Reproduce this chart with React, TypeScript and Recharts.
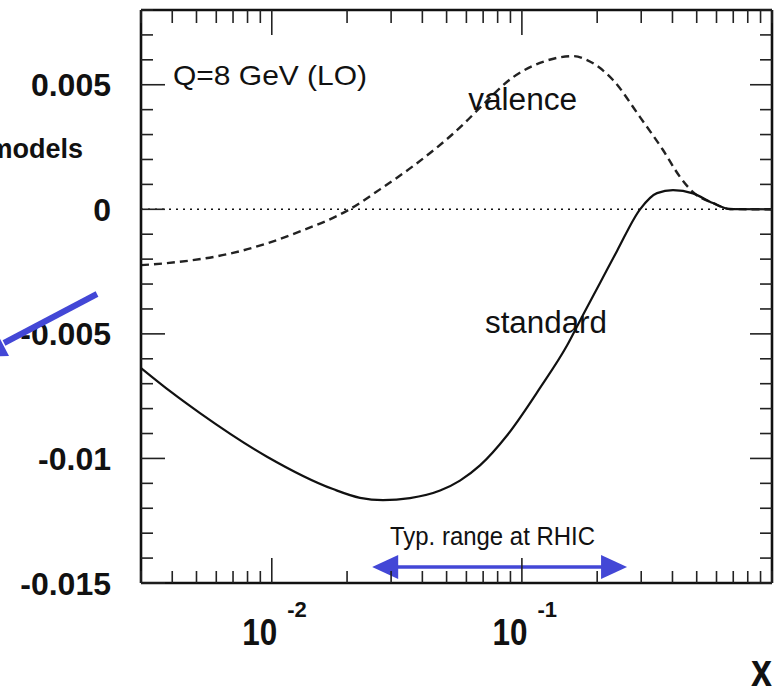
import React from 'react';
import { LineChart, Line, XAxis, YAxis, ReferenceLine, ReferenceDot, Label } from 'recharts';

// ---- data ----
const standardX = [0.003, 0.003955, 0.005164, 0.00957, 0.01757, 0.02253, 0.02784, 0.0357, 0.0471, 0.05655, 0.068, 0.0872, 0.1182, 0.1515, 0.1755, 0.2053, 0.2401, 0.2967, 0.347, 0.402, 0.4832, 0.5809, 0.6796, 1];
const standardY = [-0.00637, -0.00733, -0.00818, -0.00993, -0.01123, -0.01158, -0.01167, -0.01159, -0.01129, -0.01089, -0.01028, -0.00908, -0.00717, -0.00547, -0.00424, -0.00296, -0.00167, 0, 0.00065, 0.00077, 0.00064, 0.00025, 0.00001, 0];

const valenceX = [0.003, 0.003812, 0.007, 0.01297, 0.02055, 0.02708, 0.0368, 0.0456, 0.0583, 0.068, 0.0924, 0.1257, 0.1606, 0.1822, 0.2314, 0.2967, 0.3666, 0.4287, 0.4832, 0.5809, 0.6796, 1];
const valenceY = [-0.00224, -0.00216, -0.00175, -0.00089, 0.00001, 0.0008, 0.00174, 0.00247, 0.00341, 0.00408, 0.00531, 0.00597, 0.00615, 0.00599, 0.00519, 0.0037, 0.00238, 0.0013, 0.00069, 0.00025, 0.00001, 0];

const xTicks = [0.003, 0.004, 0.005, 0.006, 0.007, 0.008, 0.009, 0.01, 0.02, 0.03, 0.04, 0.05, 0.06, 0.07, 0.08, 0.09, 0.1, 0.2, 0.3, 0.4, 0.5, 0.6, 0.7, 0.8, 0.9, 1];
const xMajorTicks = [0.01, 0.1];
const xMajorExponents = ['-2', '-1'];

const yTicks = [-0.015, -0.014, -0.013, -0.012, -0.011, -0.01, -0.009, -0.008, -0.007, -0.006, -0.005, -0.004, -0.003, -0.002, -0.001, 0, 0.001, 0.002, 0.003, 0.004, 0.005, 0.006, 0.007, 0.008];
const yMajorTicks = [-0.015, -0.01, -0.005, 0, 0.005];
const yMajorLabels = ['-0.015', '-0.01', '-0.005', '0', '0.005'];

const xDomain = [0.003, 1];
const yDomain = [-0.015, 0.008];

const rhicRange = [0.0252, 0.2633];
const rhicLevel = -0.01436;

const standardData = standardX.map((x, i) => ({ x, y: standardY[i] }));
const valenceData = valenceX.map((x, i) => ({ x, y: valenceY[i] }));

const FONT = "'Liberation Sans', Arial, Helvetica, sans-serif";
const BLUE = '#4347D6';
const TICK = '#222';

const BottomTick = (props: any) => {
  const { x, y, payload } = props;
  const mi = xMajorTicks.indexOf(payload.value);
  const major = mi >= 0;
  return (
    <g>
      <line x1={x} y1={y} x2={x} y2={y - (major ? 25 : 12)} stroke={TICK} strokeWidth={1.6} />
      {major && (
        <g fontFamily={FONT} fontWeight="bold" fill="#111">
          <text x={x - 29.5} y={y + 62} fontSize={36} textLength={35} lengthAdjust="spacingAndGlyphs">10</text>
          <text x={x + 15.5} y={y + 34} fontSize={22}>{xMajorExponents[mi]}</text>
        </g>
      )}
    </g>
  );
};

const TopTick = (props: any) => {
  const { x, y, payload } = props;
  const major = xMajorTicks.indexOf(payload.value) >= 0;
  return <line x1={x} y1={y} x2={x} y2={y + (major ? 25 : 13)} stroke={TICK} strokeWidth={1.6} />;
};

const LeftTick = (props: any) => {
  const { x, y, payload } = props;
  const mi = yMajorTicks.indexOf(payload.value);
  const major = mi >= 0;
  return (
    <g>
      <line x1={x} y1={y} x2={x + (major ? 24 : 12)} y2={y} stroke={TICK} strokeWidth={1.6} />
      {major && (
        <text x={x - 30} y={y + 11.5} textAnchor="end" fontFamily={FONT} fontWeight="bold" fontSize={32} fill="#111">
          {yMajorLabels[mi]}
        </text>
      )}
    </g>
  );
};

const RightTick = (props: any) => {
  const { x, y, payload } = props;
  const major = yMajorTicks.indexOf(payload.value) >= 0;
  return <line x1={x} y1={y} x2={x - (major ? 22 : 12)} y2={y} stroke={TICK} strokeWidth={1.6} />;
};

const textShape = (text: string, size: number, length: number) => (p: any) => (
  <text x={p.cx} y={p.cy} fontFamily={FONT} fontSize={size} fill="#111" textLength={length} lengthAdjust="spacingAndGlyphs">
    {text}
  </text>
);

const ArrowShape = (p: any) => {
  const { x1, y1, x2, y2 } = p;
  const head = 26;
  const half = 12;
  return (
    <g>
      <line x1={x1 + head - 2} y1={y1} x2={x2 - head + 2} y2={y2} stroke={BLUE} strokeWidth={3.5} />
      <polygon points={`${x1},${y1} ${x1 + head},${y1 - half} ${x1 + head},${y1 + half}`} fill={BLUE} />
      <polygon points={`${x2},${y2} ${x2 - head},${y2 - half} ${x2 - head},${y2 + half}`} fill={BLUE} />
    </g>
  );
};

const XTitle = (p: any) => {
  const vb = p.viewBox || { x: 141, y: 583, width: 631, height: 108 };
  return (
    <text x={vb.x + vb.width} y={vb.y + 103} textAnchor="end" fontFamily={FONT} fontWeight="bold" fontSize={46} fill="#111" textLength={21} lengthAdjust="spacingAndGlyphs">
      x
    </text>
  );
};

export default function App() {
  return (
    <div style={{ position: 'absolute', left: 0, top: 0, width: 776, height: 691, background: '#fff' }}>
      <LineChart width={776} height={691} margin={{ top: 0, right: 0, bottom: 0, left: 0 }}>
        <XAxis
          xAxisId="b"
          dataKey="x"
          type="number"
          scale="log"
          domain={xDomain}
          allowDataOverflow
          ticks={xTicks}
          interval={0}
          height={108}
          tickSize={0}
          tickMargin={0}
          tickLine={false}
          tick={BottomTick}
          axisLine={{ stroke: '#111', strokeWidth: 2.6 }}
          label={<Label content={XTitle} />}
        />
        <XAxis
          xAxisId="t"
          orientation="top"
          dataKey="x"
          type="number"
          scale="log"
          domain={xDomain}
          allowDataOverflow
          ticks={xTicks}
          interval={0}
          height={10}
          tickSize={0}
          tickMargin={0}
          tickLine={false}
          tick={TopTick}
          axisLine={{ stroke: '#111', strokeWidth: 2.6 }}
        />
        <YAxis
          yAxisId="l"
          type="number"
          domain={yDomain}
          allowDataOverflow
          ticks={yTicks}
          interval={0}
          width={141}
          tickSize={0}
          tickMargin={0}
          tickLine={false}
          tick={LeftTick}
          axisLine={{ stroke: '#111', strokeWidth: 2.6 }}
        />
        <YAxis
          yAxisId="r"
          orientation="right"
          type="number"
          domain={yDomain}
          allowDataOverflow
          ticks={yTicks}
          interval={0}
          width={4}
          tickSize={0}
          tickMargin={0}
          tickLine={false}
          tick={RightTick}
          axisLine={{ stroke: '#111', strokeWidth: 2.6 }}
        />
        <ReferenceLine xAxisId="b" yAxisId="l" y={0} stroke="#111" strokeWidth={1.5} strokeDasharray="2 5" />
        <Line
          xAxisId="b"
          yAxisId="l"
          data={valenceData}
          dataKey="y"
          type="monotone"
          stroke="#222"
          strokeWidth={2.4}
          strokeDasharray="8 5"
          dot={false}
          isAnimationActive={false}
        />
        <Line
          xAxisId="b"
          yAxisId="l"
          data={standardData}
          dataKey="y"
          type="monotone"
          stroke="#111"
          strokeWidth={2.2}
          dot={false}
          isAnimationActive={false}
        />
        <ReferenceDot xAxisId="b" yAxisId="l" x={0.00403} y={0.005} r={0} ifOverflow="visible" shape={textShape('Q=8 GeV (LO)', 28, 194)} />
        <ReferenceDot xAxisId="b" yAxisId="l" x={0.061} y={0.004} r={0} ifOverflow="visible" shape={textShape('valence', 31, 109)} />
        <ReferenceDot xAxisId="b" yAxisId="l" x={0.0712} y={-0.00497} r={0} ifOverflow="visible" shape={textShape('standard', 31, 122)} />
        <ReferenceDot xAxisId="b" yAxisId="l" x={0.0297} y={-0.013475} r={0} ifOverflow="visible" shape={textShape('Typ. range at RHIC', 26, 205)} />
        <ReferenceLine
          xAxisId="b"
          yAxisId="l"
          segment={[{ x: rhicRange[0], y: rhicLevel }, { x: rhicRange[1], y: rhicLevel }]}
          ifOverflow="visible"
          shape={ArrowShape}
        />
      </LineChart>
      <svg width={776} height={691} style={{ position: 'absolute', left: 0, top: 0, pointerEvents: 'none' }}>
        <text x={83} y={158} textAnchor="end" fontFamily={FONT} fontWeight="bold" fontSize={27} fill="#111">models</text>
        <line x1={97} y1={294} x2={4} y2={343} stroke={BLUE} strokeWidth={6} />
        <polygon points="-22,357 9,356 -4,331" fill={BLUE} />
      </svg>
    </div>
  );
}
